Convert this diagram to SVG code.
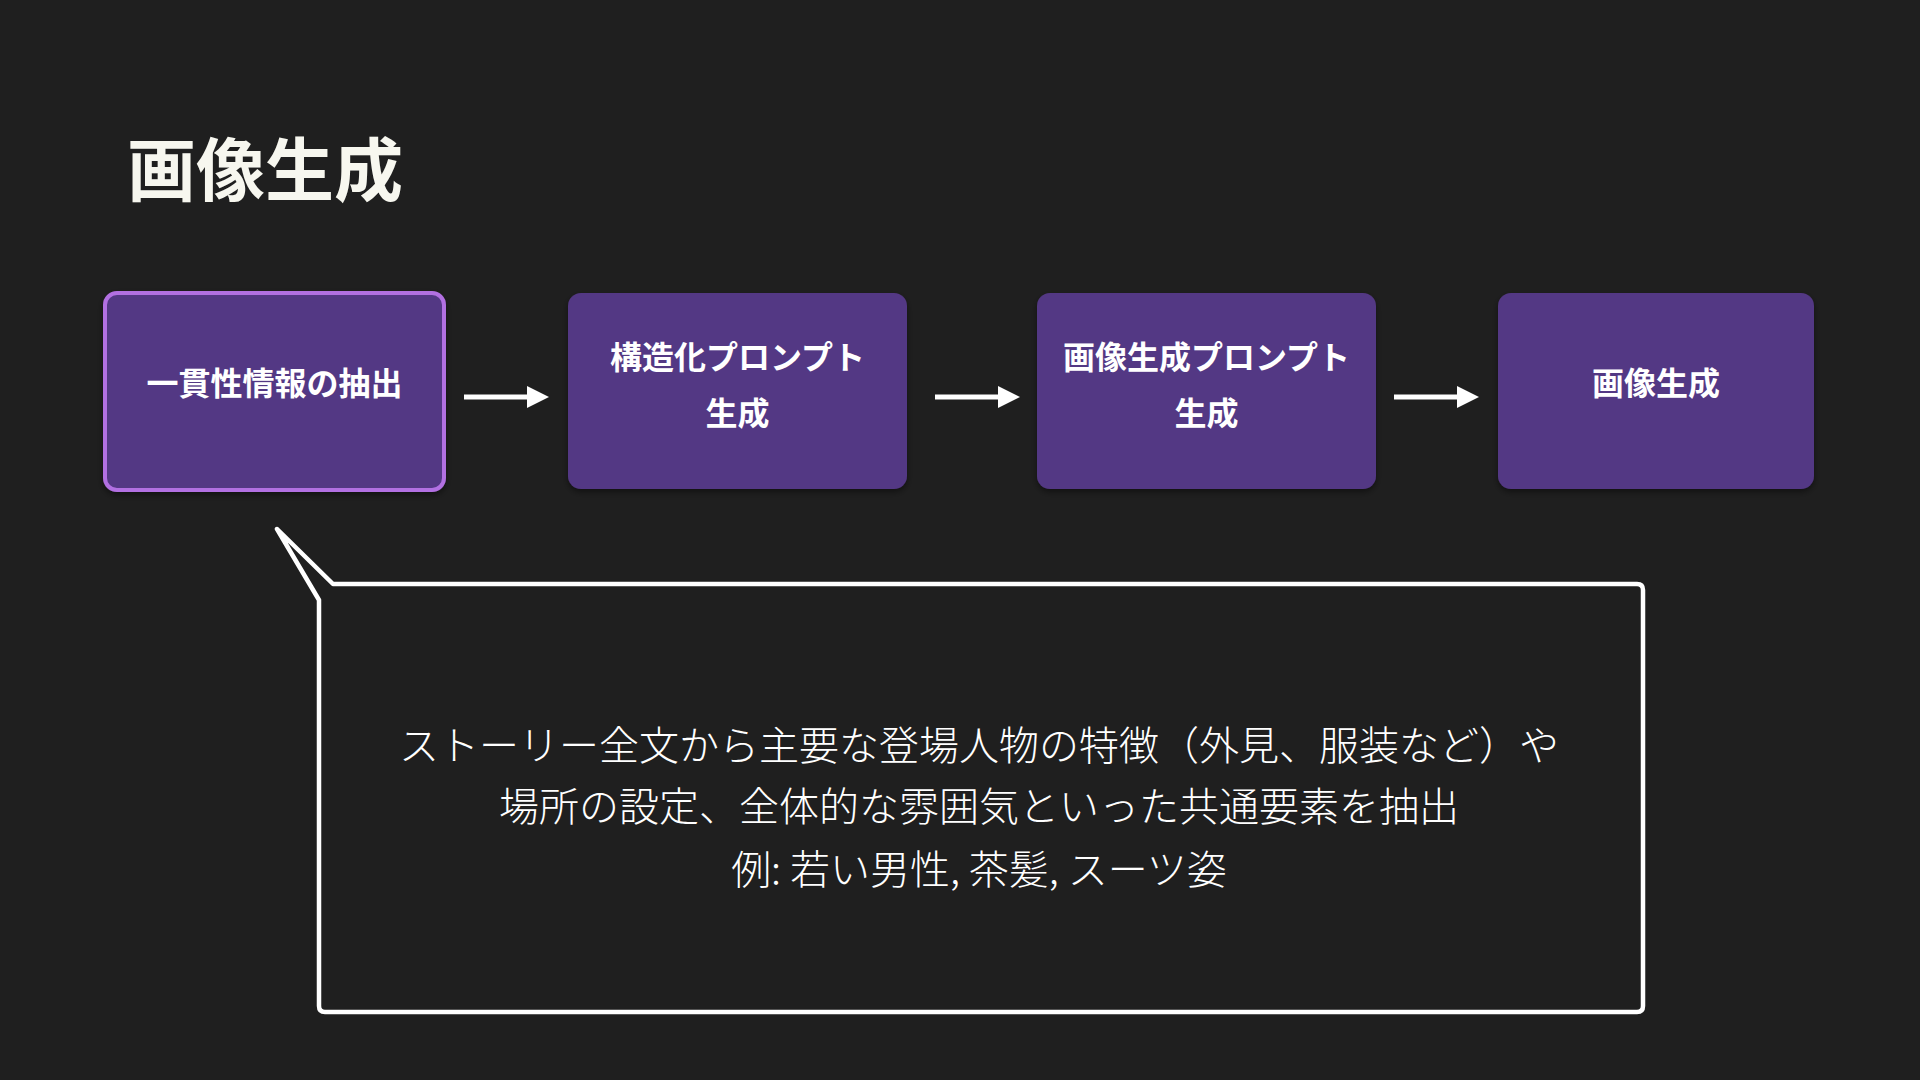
<svg xmlns="http://www.w3.org/2000/svg" width="1920" height="1080" viewBox="0 0 1920 1080">
  <defs>
    <style>
      .jp { font-family: "Noto Sans CJK JP", "Noto Sans", sans-serif; }
      .title { font-size: 69px; font-weight: 700; fill: #f7f7ef; }
      .node { fill: #533884; }
      .node-active { fill: #533884; stroke: #b26fe2; stroke-width: 4; }
      .label { font-size: 32px; font-weight: 700; fill: #ffffff; text-anchor: middle; }
      .conn { stroke: #ffffff; stroke-width: 5; fill: none; }
      .callout { fill: #1f1f1f; stroke: #ffffff; stroke-width: 4.5; stroke-linejoin: round; }
      .note { font-size: 40px; font-weight: 300; fill: #ffffff; text-anchor: middle; }
    </style>
    <marker id="head" markerUnits="userSpaceOnUse" markerWidth="24" markerHeight="24" refX="2" refY="11" orient="auto">
      <path d="M0,0 L22,11 L0,22 Z" fill="#ffffff"/>
    </marker>
    <filter id="shadow" x="-10%" y="-10%" width="120%" height="130%">
      <feDropShadow dx="0" dy="3" stdDeviation="3" flood-color="#000000" flood-opacity="0.45"/>
    </filter>
  </defs>

  <rect width="1920" height="1080" fill="#1f1f1f"/>

  <text class="jp title" x="127" y="196">画像生成</text>

  <g id="connectors">
    <line class="conn" x1="464" y1="397" x2="529" y2="397" marker-end="url(#head)"/>
    <line class="conn" x1="935" y1="397" x2="1000" y2="397" marker-end="url(#head)"/>
    <line class="conn" x1="1394" y1="397" x2="1459" y2="397" marker-end="url(#head)"/>
  </g>

  <g id="node-extract">
    <rect class="node-active" x="105" y="293" width="339" height="197" rx="12" filter="url(#shadow)"/>
    <text class="jp label" x="274.5" y="395">一貫性情報の抽出</text>
  </g>

  <g id="node-structured-prompt">
    <rect class="node" x="568" y="293" width="339" height="196" rx="13" filter="url(#shadow)"/>
    <text class="jp label" x="737.5" y="369">構造化プロンプト</text>
    <text class="jp label" x="737.5" y="425">生成</text>
  </g>

  <g id="node-image-prompt">
    <rect class="node" x="1037" y="293" width="339" height="196" rx="13" filter="url(#shadow)"/>
    <text class="jp label" x="1206.5" y="369">画像生成プロンプト</text>
    <text class="jp label" x="1206.5" y="425">生成</text>
  </g>

  <g id="node-image">
    <rect class="node" x="1498" y="293" width="316" height="196" rx="13" filter="url(#shadow)"/>
    <text class="jp label" x="1656" y="395">画像生成</text>
  </g>

  <g id="callout">
    <path class="callout" d="M277,529 L333,584 L1637,584 Q1643,584 1643,590 L1643,1006 Q1643,1012 1637,1012 L325,1012 Q319,1012 319,1006 L319,600 Z"/>
    <text class="jp note" x="979" y="760">ストーリー全文から主要な登場人物の特徴（外見、服装など）や</text>
    <text class="jp note" x="979" y="821">場所の設定、全体的な雰囲気といった共通要素を抽出</text>
    <text class="jp note" x="979" y="884">例: 若い男性, 茶髪, スーツ姿</text>
  </g>
</svg>
